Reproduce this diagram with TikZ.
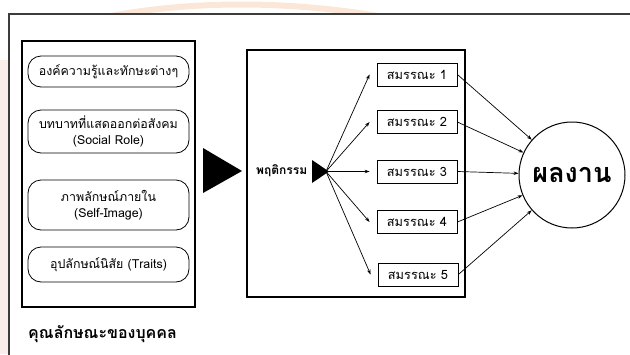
\documentclass[tikz,border=0pt]{standalone}
\usepackage{fontspec}
\setmainfont[Script=Thai]{Loma}
\usetikzlibrary{arrows.meta}

\definecolor{framegray}{RGB}{60,60,60}
\definecolor{washorange}{RGB}{248,206,176}
\definecolor{washpink}{RGB}{246,226,222}

\tikzset{
  frameline/.style={draw=framegray, line width=1.1pt},
  panel/.style={draw=black, line width=1.1pt},
  trait/.style={draw=black, line width=0.8pt, rounded corners=13pt,
    minimum width=161pt, align=center, inner sep=2pt,
    font=\fontsize{12.4}{15.5}\selectfont},
  compbox/.style={draw=black, line width=0.8pt, minimum width=80pt,
    minimum height=23pt, inner sep=1pt, font=\fontsize{12.8}{14}\selectfont},
  resultnode/.style={draw=black, line width=1pt, circle, minimum size=106pt,
    inner sep=0pt, font=\bfseries\fontsize{27}{30}\selectfont},
  link/.style={-{Stealth[length=5pt,width=3.5pt]}, line width=0.7pt, black},
}

\begin{document}
\begin{tikzpicture}[x=1pt,y=-1pt]
\useasboundingbox (0,0) rectangle (630,354);

% faint watermark behind the frame
\begin{scope}
  \clip (0,0) rectangle (630,13);
  \draw[washorange, line width=6pt, opacity=0.5]
    (100,18) .. controls (190,0) and (290,0) .. (390,18);
\end{scope}
\fill[washpink, opacity=0.6] (0,60) rectangle (8,354);

% outer frame (runs off the right and bottom edges)
\draw[frameline] (9,360) -- (9,14) -- (640,14);

% personal characteristics panel
\draw[panel] (22,41) rectangle (195,307);
\node[trait, minimum height=31pt] (t1) at (108.5,71.5) {องค์ความรู้และทักษะต่างๆ};
\node[trait, minimum height=43pt] (t2) at (108.5,131.5) {บทบาทที่แสดออกต่อสังคม\\(Social Role)};
\node[trait, minimum height=50pt] (t3) at (108.5,205) {ภาพลักษณ์ภายใน\\(Self-Image)};
\node[trait, minimum height=35pt] (t4) at (108.5,264.5) {อุปลักษณ์นิสัย (Traits)};
\node[anchor=west, inner sep=0pt, font=\bfseries\fontsize{16}{18}\selectfont]
  (traitlabel) at (28,334) {คุณลักษณะของบุคคล};

% large pointer between the panels
\fill[black] (203,148) -- (242,171) -- (203,193) -- cycle;

% behaviour panel
\draw[panel] (247,50) rectangle (465,297);
\node[anchor=west, inner sep=0pt, font=\bfseries\fontsize{12}{14}\selectfont]
  (behav) at (256,171) {พฤติกรรม};
\fill[black] (312,160) -- (329,171.5) -- (312,183) -- cycle;
\coordinate (hub) at (326,171.5);

% competencies
\node[compbox] (c1) at (417,74.5) {สมรรณะ 1};
\node[compbox] (c2) at (417,122) {สมรรณะ 2};
\node[compbox] (c3) at (417,171.5) {สมรรณะ 3};
\node[compbox] (c4) at (417,222) {สมรรณะ 4};
\node[compbox] (c5) at (418,274.5) {สมรรณะ 5};

% result
\node[resultnode] (res) at (572,175) {ผลงาน};

% behaviour to competencies
\foreach \c in {c1,c2,c3,c4,c5}
  \draw[link] (hub) -- ([xshift=-7pt]\c.west);

% competencies to result
\foreach \c in {c1,c2,c3,c4,c5}
  \draw[link] (\c.east) -- (res);
\end{tikzpicture}
\end{document}
